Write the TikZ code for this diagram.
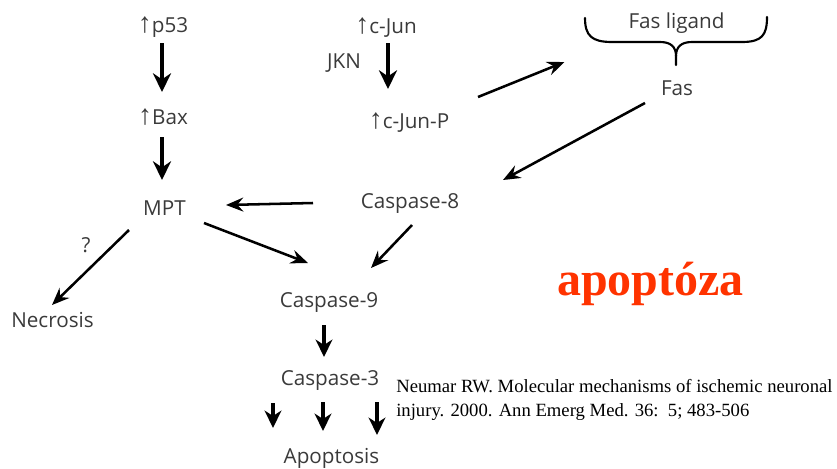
\documentclass[tikz,border=0pt]{standalone}
\usepackage{fontspec}
\setmainfont{Open Sans}
\newfontfamily\symf{Liberation Sans}
\newfontfamily\timesf{Liberation Serif}
\usetikzlibrary{arrows.meta}
\definecolor{txt}{HTML}{3A3A3A}
\definecolor{apored}{HTML}{FF3300}
\newcommand{\upar}{{\symf\fontsize{21}{21}\selectfont ↑}}
\begin{document}
\begin{tikzpicture}[x=0.75pt,y=-0.75pt,
  lbl/.style={font=\fontsize{15.5}{18}\selectfont, text=txt, inner sep=0pt, anchor=base},
  bigarr/.style={line width=2.8pt, -{Stealth[length=14pt,width=13.5pt,inset=4.5pt]}},
  diagarr/.style={line width=1.9pt, -{Stealth[length=13pt,width=10.5pt,inset=4.5pt]}},
  smallarr/.style={line width=2.4pt, -{Stealth[length=13pt,width=12.5pt,inset=4pt]}},
  bracestyle/.style={line width=1.6pt, line cap=round, line join=round}]
\useasboundingbox (0,0) rectangle (837,468);
% nodes
\node[lbl] (p53) at (163,32) {\upar p53};
\node[lbl] (bax) at (163,124) {\upar Bax};
\node[lbl] (mpt) at (164.5,215) {MPT};
\node[lbl] (cjun) at (386,33) {\upar c-Jun};
\node[lbl] (jkn) at (344,68) {JKN};
\node[lbl] (cjunp) at (409,128) {\upar c-Jun-P};
\node[lbl] (fasl) at (676.5,28) {Fas ligand};
\node[lbl] (fas) at (677,95) {Fas};
\node[lbl] (casp8) at (410,208) {Caspase-8};
\node[lbl] (q) at (86,252) {?};
\node[lbl] (necr) at (52.5,327) {Necrosis};
\node[lbl] (casp9) at (329,307) {Caspase-9};
\node[lbl] (casp3) at (330,385) {Caspase-3};
\node[lbl] (apop) at (331.5,463) {Apoptosis};
\node[font=\timesf\fontsize{14}{17.5}\selectfont, inner sep=0pt, anchor=base west, align=left] (cite) at (396,416)
  {Neumar RW. Molecular mechanisms of ischemic neuronal\\injury. 2000. Ann Emerg Med. 36:\ \ 5; 483-506};
\node[font=\timesf\bfseries\fontsize{36}{40}\selectfont, text=apored, inner sep=0pt, anchor=base] (apo) at (650.5,295) {apoptóza};
% brace
\draw[bracestyle] (585,18) .. controls (585,36) and (592,42) .. (612,42) -- (660,42)
  .. controls (671,42) and (676,47) .. (676,56) -- (676,65);
\draw[bracestyle] (676,56) .. controls (676,47) and (681,42) .. (692,42) -- (742,42)
  .. controls (762,42) and (767,35) .. (767,17);
% connectors
\draw[bigarr] ([shift={(-1,11)}]p53.base) -- ([shift={(-1,-32)}]bax.base);
\draw[bigarr] ([shift={(-1,13)}]bax.base) -- ([shift={(-2.5,-35)}]mpt.base);
\draw[bigarr] ([shift={(2,10)}]cjun.base) -- ([shift={(-21,-39)}]cjunp.base);
\draw[diagarr] ([shift={(69,-31)}]cjunp.base) -- ([shift={(-112,34)}]fasl.base);
\draw[diagarr] ([shift={(-32,8)}]fas.base) -- ([shift={(93,-28)}]casp8.base);
\draw[diagarr] ([shift={(-97,-5)}]casp8.base) -- ([shift={(61.5,-10)}]mpt.base);
\draw[diagarr] ([shift={(39.5,8)}]mpt.base) -- ([shift={(-21,-44)}]casp9.base);
\draw[diagarr] ([shift={(2,17)}]casp8.base) -- ([shift={(42,-39)}]casp9.base);
\draw[diagarr] ([shift={(-35.5,15)}]mpt.base) -- ([shift={(-0.5,-22)}]necr.base);
\draw[smallarr] ([shift={(-5,18)}]casp9.base) -- ([shift={(-6,-28)}]casp3.base);
\draw[smallarr] ([shift={(-57,18)}]casp3.base) -- ([shift={(-58.5,-35)}]apop.base);
\draw[smallarr] ([shift={(-7,17)}]casp3.base) -- ([shift={(-8.5,-32)}]apop.base);
\draw[smallarr] ([shift={(47,17)}]casp3.base) -- ([shift={(45.5,-28)}]apop.base);
\end{tikzpicture}
\end{document}
